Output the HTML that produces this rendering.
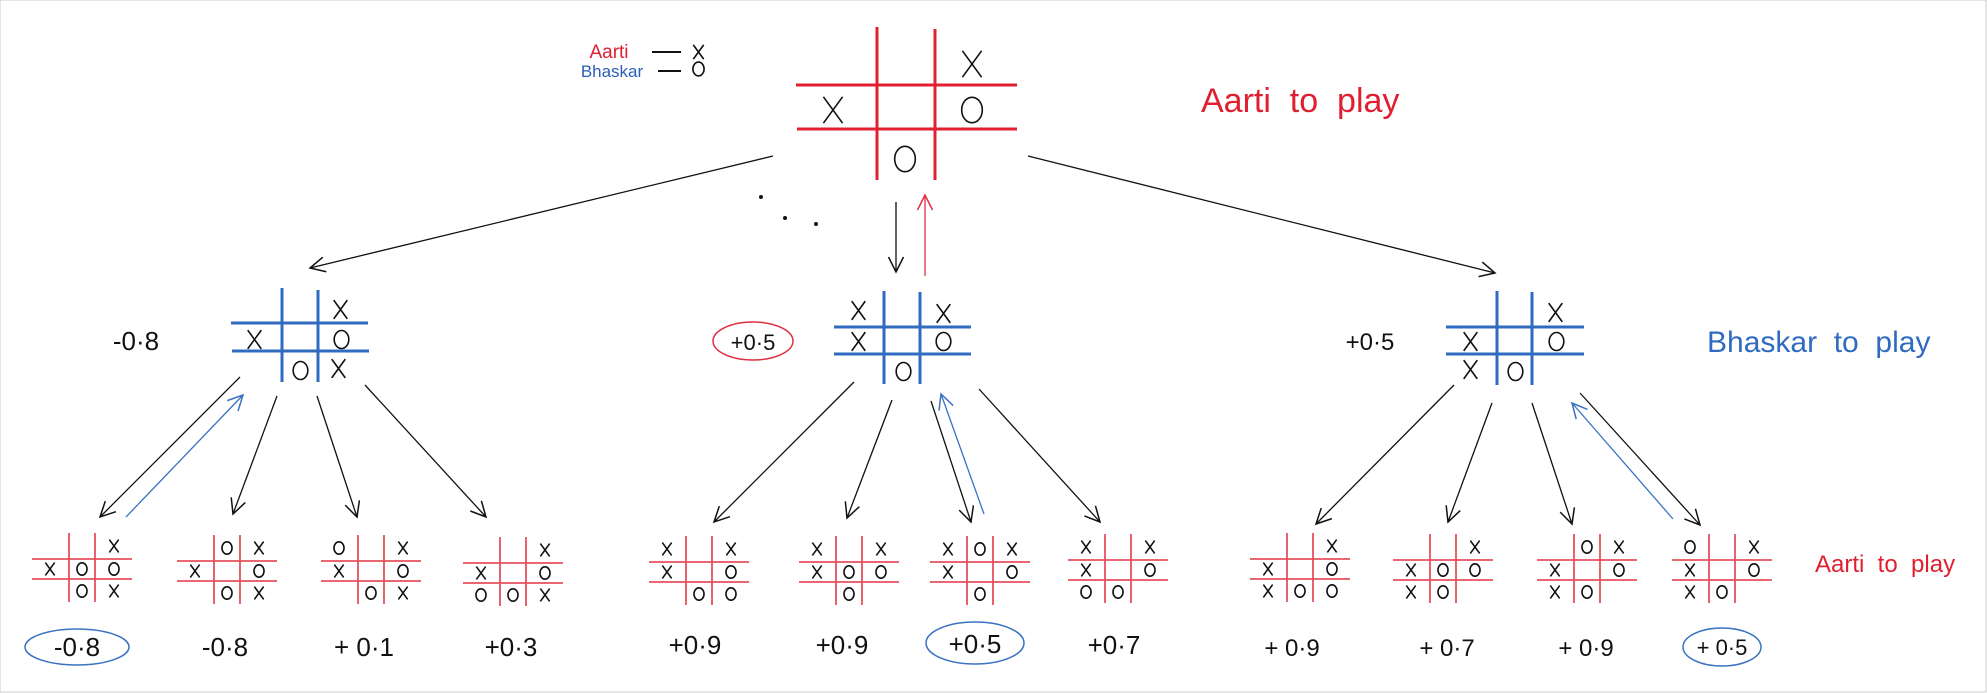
<!DOCTYPE html>
<html><head><meta charset="utf-8"><style>
html,body{margin:0;padding:0;background:#fff;}
svg{display:block;}
text{font-family:"Liberation Sans","DejaVu Sans",cursive;}
</style></head><body>
<svg width="1987" height="693" viewBox="0 0 1987 693" xmlns="http://www.w3.org/2000/svg">
<defs>
<symbol id="X" viewBox="0 0 10 12"><path d="M1,0.5 L9,11.5 M9,0.5 L1,11.5" stroke="#111" stroke-width="1.6" fill="none" vector-effect="non-scaling-stroke"/></symbol>
<symbol id="O" viewBox="0 0 10 12"><ellipse cx="5" cy="6" rx="4.3" ry="5.3" stroke="#111" stroke-width="1.6" fill="none" vector-effect="non-scaling-stroke"/></symbol>
<g id="sb"><path d="M37,0 V69 M63,0 V69 M0,26 H100 M0,46 H100" stroke="#e8505c" stroke-width="1.8" fill="none"/></g>
<marker id="ab" viewBox="0 0 12 12" refX="11" refY="6" markerWidth="18" markerHeight="18" markerUnits="userSpaceOnUse" orient="auto"><path d="M1,1 L11,6 L1,11" fill="none" stroke="#111" stroke-width="1"/></marker>
<marker id="abl" viewBox="0 0 12 12" refX="11" refY="6" markerWidth="18" markerHeight="18" markerUnits="userSpaceOnUse" orient="auto"><path d="M1,1 L11,6 L1,11" fill="none" stroke="#3a72c4" stroke-width="1"/></marker>
<marker id="ar" viewBox="0 0 12 12" refX="11" refY="6" markerWidth="18" markerHeight="18" markerUnits="userSpaceOnUse" orient="auto"><path d="M1,1 L11,6 L1,11" fill="none" stroke="#e03040" stroke-width="1"/></marker>
</defs>
<rect x="0" y="0" width="1986" height="692" fill="#fff" stroke="#ccc" stroke-width="1"/>

<text x="609" y="58" font-size="19" fill="#e02030" text-anchor="middle">Aarti</text>
<text x="612" y="77" font-size="17" fill="#2a60b8" text-anchor="middle">Bhaskar</text>
<path d="M652,52 H681 M658,71 H681" stroke="#111" stroke-width="2"/>
<use href="#X" x="692" y="44" width="13" height="16"/>
<use href="#O" x="692" y="61" width="13" height="16"/>

<path d="M877,27 V180 M935,29 V180 M796,85 H1017 M797,129 H1017" stroke="#e02030" stroke-width="3" fill="none"/>
<use href="#X" x="960" y="49" width="24" height="30"/>
<use href="#X" x="821" y="95" width="24" height="30"/>
<use href="#O" x="960" y="95" width="24" height="30"/>
<use href="#O" x="893" y="144" width="24" height="30"/>
<text x="1201" y="112" font-size="34" fill="#e02030">Aarti&#160; to&#160; play</text>

<line x1="773" y1="156" x2="310" y2="268" stroke="#111" stroke-width="1.3" marker-end="url(#ab)"/>
<line x1="1028" y1="156" x2="1495" y2="273" stroke="#111" stroke-width="1.3" marker-end="url(#ab)"/>
<circle cx="761" cy="197" r="2" fill="#111"/><circle cx="785" cy="218" r="2" fill="#111"/><circle cx="816" cy="224" r="2" fill="#111"/>
<line x1="896" y1="202" x2="896" y2="272" stroke="#111" stroke-width="1.3" marker-end="url(#ab)"/>
<line x1="925" y1="276" x2="925" y2="195" stroke="#e03040" stroke-width="1.3" marker-end="url(#ar)"/>

<path d="M282,288 V382 M318,290 V382 M231,323 H368 M232,351 H369" stroke="#2f6bc0" stroke-width="3" fill="none"/>
<use href="#X" x="332" y="299" width="17" height="21"/>
<use href="#X" x="246" y="329" width="17" height="21"/>
<use href="#O" x="333" y="329" width="17" height="21"/>
<use href="#O" x="292" y="360" width="17" height="21"/>
<use href="#X" x="330" y="358" width="17" height="21"/>
<text x="136" y="350" font-size="26" fill="#111" text-anchor="middle">-0·8</text>

<path d="M884,291 V384 M920,292 V384 M834,327 H971 M834,354 H971" stroke="#2f6bc0" stroke-width="3" fill="none"/>
<use href="#X" x="850" y="300" width="17" height="21"/>
<use href="#X" x="935" y="303" width="17" height="21"/>
<use href="#X" x="850" y="331" width="17" height="21"/>
<use href="#O" x="935" y="331" width="17" height="21"/>
<use href="#O" x="895" y="361" width="17" height="21"/>
<ellipse cx="753" cy="341" rx="40" ry="19" fill="none" stroke="#e03040" stroke-width="1.5"/>
<text x="753" y="350" font-size="22" fill="#111" text-anchor="middle">+0·5</text>

<path d="M1497,291 V385 M1532,292 V385 M1446,327 H1584 M1446,354 H1584" stroke="#2f6bc0" stroke-width="3" fill="none"/>
<use href="#X" x="1547" y="302" width="17" height="21"/>
<use href="#X" x="1462" y="331" width="17" height="21"/>
<use href="#O" x="1548" y="331" width="17" height="21"/>
<use href="#X" x="1462" y="359" width="17" height="21"/>
<use href="#O" x="1507" y="361" width="17" height="21"/>
<text x="1370" y="350" font-size="24" fill="#111" text-anchor="middle">+0·5</text>
<text x="1707" y="352" font-size="30" fill="#2f6bc0">Bhaskar&#160; to&#160; play</text>

<g stroke="#111" stroke-width="1.3">
<line x1="240" y1="377" x2="100" y2="517" marker-end="url(#ab)"/>
<line x1="277" y1="396" x2="233" y2="514" marker-end="url(#ab)"/>
<line x1="317" y1="396" x2="357" y2="517" marker-end="url(#ab)"/>
<line x1="365" y1="385" x2="486" y2="517" marker-end="url(#ab)"/>
<line x1="854" y1="382" x2="714" y2="522" marker-end="url(#ab)"/>
<line x1="892" y1="400" x2="847" y2="518" marker-end="url(#ab)"/>
<line x1="931" y1="401" x2="971" y2="522" marker-end="url(#ab)"/>
<line x1="979" y1="389" x2="1100" y2="522" marker-end="url(#ab)"/>
<line x1="1454" y1="385" x2="1316" y2="524" marker-end="url(#ab)"/>
<line x1="1492" y1="403" x2="1448" y2="522" marker-end="url(#ab)"/>
<line x1="1532" y1="403" x2="1572" y2="524" marker-end="url(#ab)"/>
<line x1="1580" y1="393" x2="1700" y2="525" marker-end="url(#ab)"/>
</g>
<g stroke="#3a72c4" stroke-width="1.3">
<line x1="126" y1="517" x2="243" y2="395" marker-end="url(#abl)"/>
<line x1="984" y1="514" x2="941" y2="394" marker-end="url(#abl)"/>
<line x1="1673" y1="519" x2="1572" y2="403" marker-end="url(#abl)"/>
</g>

<g transform="translate(32,533)"><use href="#sb"/>
<use href="#X" x="76" y="6" width="12" height="14"/>
<use href="#X" x="12" y="29" width="12" height="14"/><use href="#O" x="44" y="29" width="12" height="14"/><use href="#O" x="76" y="29" width="12" height="14"/>
<use href="#O" x="44" y="51" width="12" height="14"/><use href="#X" x="76" y="51" width="12" height="14"/></g>

<g transform="translate(177,535)"><use href="#sb"/>
<use href="#O" x="44" y="6" width="12" height="14"/><use href="#X" x="76" y="6" width="12" height="14"/>
<use href="#X" x="12" y="29" width="12" height="14"/><use href="#O" x="76" y="29" width="12" height="14"/>
<use href="#O" x="44" y="51" width="12" height="14"/><use href="#X" x="76" y="51" width="12" height="14"/></g>

<g transform="translate(321,535)"><use href="#sb"/>
<use href="#O" x="12" y="6" width="12" height="14"/><use href="#X" x="76" y="6" width="12" height="14"/>
<use href="#X" x="12" y="29" width="12" height="14"/><use href="#O" x="76" y="29" width="12" height="14"/>
<use href="#O" x="44" y="51" width="12" height="14"/><use href="#X" x="76" y="51" width="12" height="14"/></g>

<g transform="translate(463,537)"><use href="#sb"/>
<use href="#X" x="76" y="6" width="12" height="14"/>
<use href="#X" x="12" y="29" width="12" height="14"/><use href="#O" x="76" y="29" width="12" height="14"/>
<use href="#O" x="12" y="51" width="12" height="14"/><use href="#O" x="44" y="51" width="12" height="14"/><use href="#X" x="76" y="51" width="12" height="14"/></g>

<g transform="translate(649,536)"><use href="#sb"/>
<use href="#X" x="12" y="6" width="12" height="14"/><use href="#X" x="76" y="6" width="12" height="14"/>
<use href="#X" x="12" y="29" width="12" height="14"/><use href="#O" x="76" y="29" width="12" height="14"/>
<use href="#O" x="44" y="51" width="12" height="14"/><use href="#O" x="76" y="51" width="12" height="14"/></g>

<g transform="translate(799,536)"><use href="#sb"/>
<use href="#X" x="12" y="6" width="12" height="14"/><use href="#X" x="76" y="6" width="12" height="14"/>
<use href="#X" x="12" y="29" width="12" height="14"/><use href="#O" x="44" y="29" width="12" height="14"/><use href="#O" x="76" y="29" width="12" height="14"/>
<use href="#O" x="44" y="51" width="12" height="14"/></g>

<g transform="translate(930,536)"><use href="#sb"/>
<use href="#X" x="12" y="6" width="12" height="14"/><use href="#O" x="44" y="6" width="12" height="14"/><use href="#X" x="76" y="6" width="12" height="14"/>
<use href="#X" x="12" y="29" width="12" height="14"/><use href="#O" x="76" y="29" width="12" height="14"/>
<use href="#O" x="44" y="51" width="12" height="14"/></g>

<g transform="translate(1068,534)"><use href="#sb"/>
<use href="#X" x="12" y="6" width="12" height="14"/><use href="#X" x="76" y="6" width="12" height="14"/>
<use href="#X" x="12" y="29" width="12" height="14"/><use href="#O" x="76" y="29" width="12" height="14"/>
<use href="#O" x="12" y="51" width="12" height="14"/><use href="#O" x="44" y="51" width="12" height="14"/></g>

<g transform="translate(1250,533)"><use href="#sb"/>
<use href="#X" x="76" y="6" width="12" height="14"/>
<use href="#X" x="12" y="29" width="12" height="14"/><use href="#O" x="76" y="29" width="12" height="14"/>
<use href="#X" x="12" y="51" width="12" height="14"/><use href="#O" x="44" y="51" width="12" height="14"/><use href="#O" x="76" y="51" width="12" height="14"/></g>

<g transform="translate(1393,534)"><use href="#sb"/>
<use href="#X" x="76" y="6" width="12" height="14"/>
<use href="#X" x="12" y="29" width="12" height="14"/><use href="#O" x="44" y="29" width="12" height="14"/><use href="#O" x="76" y="29" width="12" height="14"/>
<use href="#X" x="12" y="51" width="12" height="14"/><use href="#O" x="44" y="51" width="12" height="14"/></g>

<g transform="translate(1537,534)"><use href="#sb"/>
<use href="#O" x="44" y="6" width="12" height="14"/><use href="#X" x="76" y="6" width="12" height="14"/>
<use href="#X" x="12" y="29" width="12" height="14"/><use href="#O" x="76" y="29" width="12" height="14"/>
<use href="#X" x="12" y="51" width="12" height="14"/><use href="#O" x="44" y="51" width="12" height="14"/></g>

<g transform="translate(1672,534)"><use href="#sb"/>
<use href="#O" x="12" y="6" width="12" height="14"/><use href="#X" x="76" y="6" width="12" height="14"/>
<use href="#X" x="12" y="29" width="12" height="14"/><use href="#O" x="76" y="29" width="12" height="14"/>
<use href="#X" x="12" y="51" width="12" height="14"/><use href="#O" x="44" y="51" width="12" height="14"/></g>

<text x="1815" y="572" font-size="24" fill="#e02030">Aarti&#160; to&#160; play</text>

<g font-size="26" fill="#111" text-anchor="middle">
<text x="77" y="656">-0·8</text>
<text x="225" y="656">-0·8</text>
<text x="364" y="656">+ 0·1</text>
<text x="511" y="656">+0·3</text>
<text x="695" y="654">+0·9</text>
<text x="842" y="654">+0·9</text>
<text x="975" y="653">+0·5</text>
<text x="1114" y="654">+0·7</text>
<text x="1292" y="656" font-size="24">+ 0·9</text>
<text x="1447" y="656" font-size="24">+ 0·7</text>
<text x="1586" y="656" font-size="24">+ 0·9</text>
<text x="1722" y="655" font-size="22">+ 0·5</text>
</g>
<ellipse cx="77" cy="647" rx="52" ry="18" fill="none" stroke="#3a72c4" stroke-width="1.5"/>
<ellipse cx="975" cy="643" rx="49" ry="21" fill="none" stroke="#3a72c4" stroke-width="1.5"/>
<ellipse cx="1722" cy="647" rx="39" ry="19" fill="none" stroke="#3a72c4" stroke-width="1.5"/>
</svg>
</body></html>
